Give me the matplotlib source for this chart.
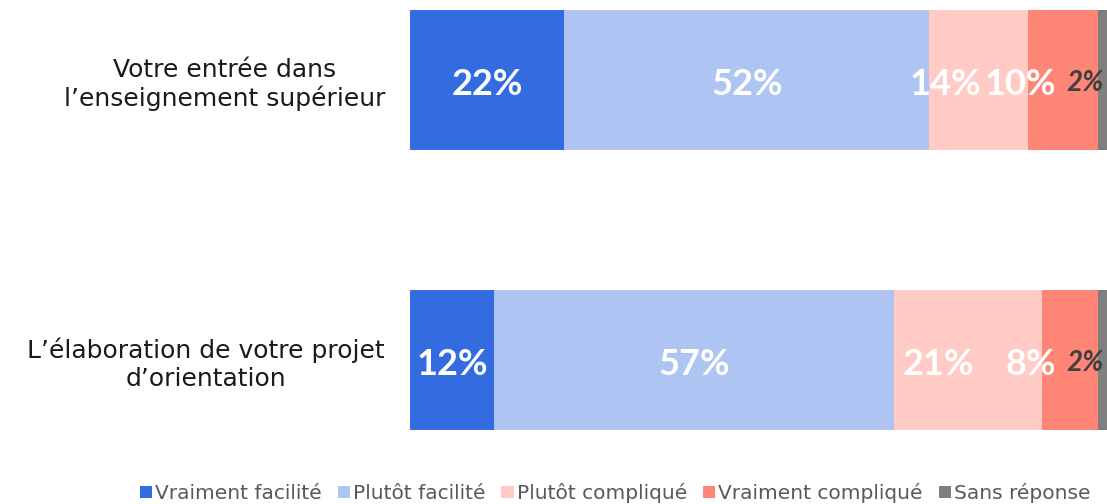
import numpy as np
import matplotlib.pyplot as plt

plt.rcParams['font.family'] = ['DejaVu Sans']

# Données
categories = ["Votre entrée dans\nl’enseignement supérieur",
              "L’élaboration de votre projet\nd’orientation"]
series = ["Vraiment facilité", "Plutôt facilité", "Plutôt compliqué",
          "Vraiment compliqué", "Sans réponse"]
values = np.array([[22, 52, 14, 10, 2],
                   [12, 57, 21, 8, 2]])
colors = ["#336CE0", "#AEC4F2", "#FFCBC4", "#FF8676", "#7F7F7F"]

# décalage horizontal des étiquettes (en points de %) pour éviter les chevauchements
shift = np.array([[0, 0, -4.7, -6.0, -2.9],
                  [0, 0, -4.3, -5.5, -2.9]])

fig = plt.figure(figsize=(11.07, 5.04), dpi=100)
# l'axe dépasse légèrement le bord droit de la figure
ax = fig.add_axes([410 / 1107, 1 - 430 / 504, 702 / 1107, 420 / 504])

y = np.arange(len(categories))
left = np.zeros(len(categories))
for j, name in enumerate(series):
    ax.barh(y, values[:, j], left=left, height=0.5, color=colors[j],
            label=name, edgecolor='none')
    for i in range(len(categories)):
        xc = left[i] + values[i, j] / 2 + shift[i, j]
        if name == "Sans réponse":
            ax.text(xc, y[i] + 0.01, f"{values[i, j]}%", ha='center',
                    va='center', color='#404040', fontsize=20,
                    family='Lato', fontweight='bold', fontstyle='italic')
        else:
            ax.text(xc, y[i] + 0.015, f"{values[i, j]}%", ha='center',
                    va='center', color='white', fontsize=26,
                    family='Lato', fontweight='bold')
    left += values[:, j]

ax.set_xlim(0, 100)
ax.set_ylim(1.25, -0.25)
ax.set_yticks(y)
ax.set_yticklabels(categories, fontsize=18, multialignment='center',
                   linespacing=1.2, color='#1a1a1a')
ax.tick_params(axis='y', length=0, pad=18)
ax.set_xticks([])
for s in ax.spines.values():
    s.set_visible(False)

fig.legend(loc='center', bbox_to_anchor=(615 / 1107, 1 - 493 / 504),
           ncol=5, frameon=False, handlelength=0.6, handleheight=0.6,
           handletextpad=0.15, columnspacing=0.8, labelcolor='#595959',
           prop={'size': 14.5})

fig.savefig("out.png", dpi=100)
